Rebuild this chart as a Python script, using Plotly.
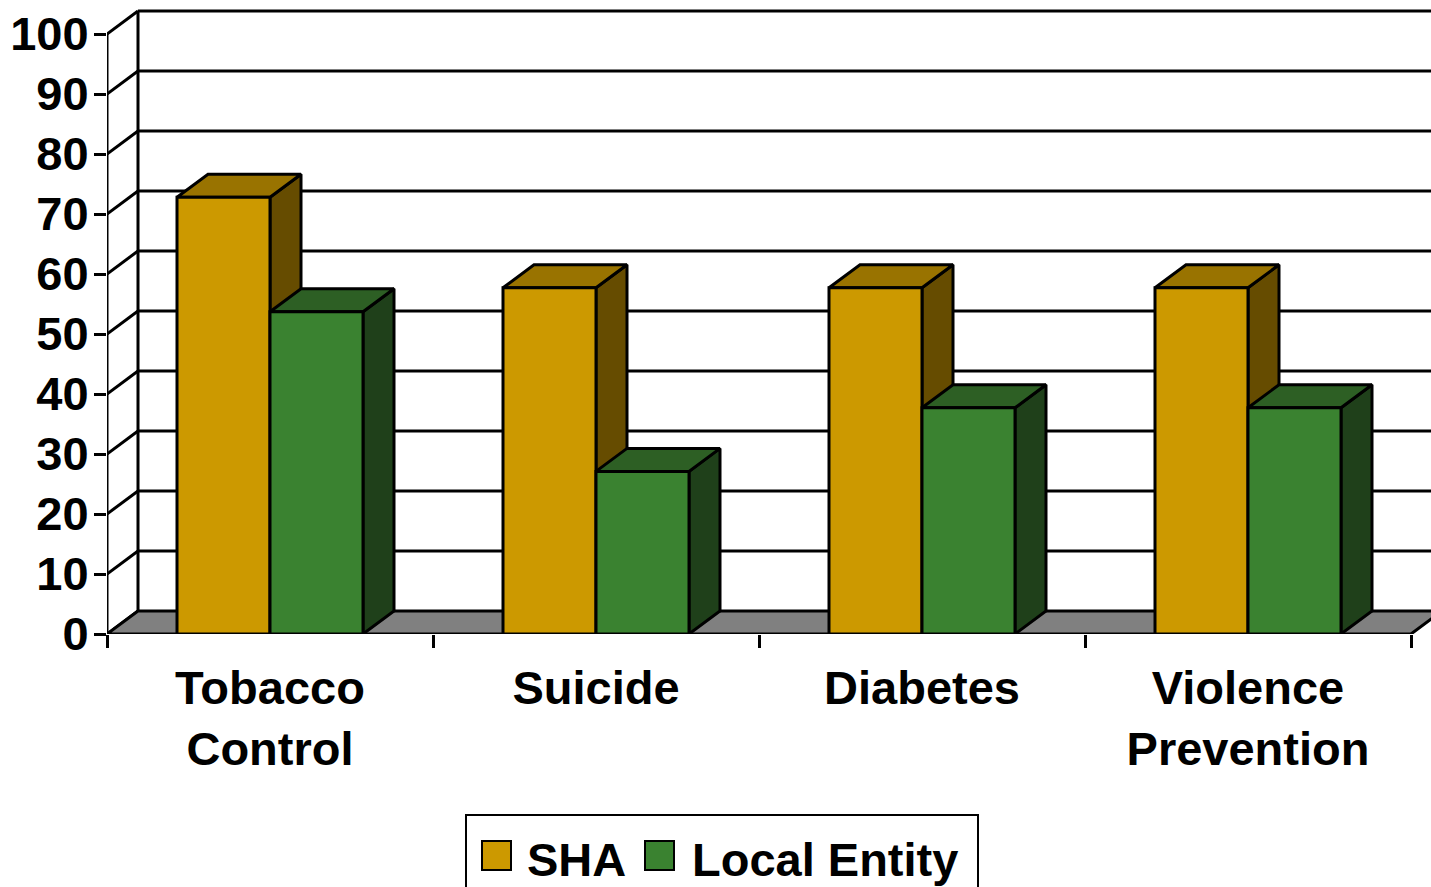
import plotly.graph_objects as go

# ---------------- data ----------------
categories = ["Tobacco<br>Control", "Suicide", "Diabetes", "Violence<br>Prevention"]
series_names = ["SHA", "Local Entity"]
sha_values = [72.8, 57.7, 57.7, 57.7]
local_values = [53.7, 27.1, 37.7, 37.7]
y_tick_values = [0, 10, 20, 30, 40, 50, 60, 70, 80, 90, 100]

# ---------------- layout geometry ----------------
W, H = 1431, 887
ML, MR, MT, MB = 107, 0, 0, 253
PLOT_W = W - ML - MR
PLOT_H = H - MT - MB
UX = 326.0          # px per category
UY = 6.0            # px per value unit
X_RANGE = [-0.5, -0.5 + PLOT_W / UX]
Y_RANGE = [0, PLOT_H / UY]
DX = 31 / UX        # depth offset (x, data units)
DY = 23 / UY        # depth offset (y, data units)
BW = 93 / UX        # bar width (data units)
N = len(categories)
X_LEFT = -0.5
X_RIGHT_END = N - 0.5

FONT = "Liberation Sans, Arial, sans-serif"
LW = 3

colors = {
    "SHA": dict(front="#CC9900", top="#997300", side="#664C00"),
    "Local Entity": dict(front="#3A8230", top="#2D5F24", side="#1F401A"),
}

fig = go.Figure()

# ---------------- walls / gridlines ----------------
gx, gy = [], []
for v in y_tick_values:
    gx += [X_LEFT, X_LEFT + DX, None]
    gy += [v, v + DY, None]
    if v > 0:
        gx += [X_LEFT + DX, X_RANGE[1] + 1, None]
        gy += [v + DY, v + DY, None]
gx += [X_LEFT + DX, X_LEFT + DX, None]
gy += [y_tick_values[0] + DY, y_tick_values[-1] + DY, None]
gx += [X_LEFT, X_LEFT, None]
gy += [y_tick_values[0], y_tick_values[-1], None]
fig.add_trace(go.Scatter(x=gx, y=gy, mode="lines", line=dict(color="black", width=LW),
                         hoverinfo="skip", showlegend=False))

# floor
fig.add_trace(go.Scatter(
    x=[X_LEFT, X_RIGHT_END, X_RIGHT_END + DX, X_LEFT + DX, X_LEFT],
    y=[0, 0, DY, DY, 0],
    mode="lines", fill="toself", fillcolor="#808080",
    line=dict(color="black", width=LW), hoverinfo="skip", showlegend=False))

# ---------------- 3D side/top faces ----------------
def faces(x0, x1, v, c):
    fig.add_trace(go.Scatter(
        x=[x1, x1 + DX, x1 + DX, x1, x1], y=[0, DY, v + DY, v, 0],
        mode="lines", fill="toself", fillcolor=c["side"],
        line=dict(color="black", width=LW), hoverinfo="skip", showlegend=False))
    fig.add_trace(go.Scatter(
        x=[x0, x0 + DX, x1 + DX, x1, x0], y=[v, v + DY, v + DY, v, v],
        mode="lines", fill="toself", fillcolor=c["top"],
        line=dict(color="black", width=LW), hoverinfo="skip", showlegend=False))

for i in range(N):
    faces(i - BW, i, sha_values[i], colors["SHA"])
    faces(i, i + BW, local_values[i], colors["Local Entity"])

# ---------------- front faces (bars, on an overlaid subplot so they sit on top) ----------------
fig.add_trace(go.Bar(x=list(range(N)), y=sha_values, width=BW, offset=-BW,
                     name=series_names[0], xaxis="x2", yaxis="y2",
                     marker=dict(color=colors["SHA"]["front"], line=dict(color="black", width=LW)),
                     showlegend=False))
fig.add_trace(go.Bar(x=list(range(N)), y=local_values, width=BW, offset=0,
                     name=series_names[1], xaxis="x2", yaxis="y2",
                     marker=dict(color=colors["Local Entity"]["front"], line=dict(color="black", width=LW)),
                     showlegend=False))

# ---------------- legend (manual) ----------------
def px2paper_x(px):
    return (px - ML) / PLOT_W

def px2paper_y(py):
    return (MT + PLOT_H - py) / PLOT_H

shapes = [
    dict(type="rect", xref="paper", yref="paper",
         x0=px2paper_x(466), x1=px2paper_x(978), y0=px2paper_y(815), y1=px2paper_y(895),
         line=dict(color="black", width=2), fillcolor="white", layer="above"),
]
legend_items = [(series_names[0], 482, 528), (series_names[1], 645, 693)]
annotations = []
for name, sx, tx in legend_items:
    shapes.append(dict(type="rect", xref="paper", yref="paper",
                       x0=px2paper_x(sx), x1=px2paper_x(sx + 29),
                       y0=px2paper_y(841), y1=px2paper_y(870),
                       line=dict(color="black", width=2),
                       fillcolor=colors[name]["front"], layer="above"))
    annotations.append(dict(text=name, xref="paper", yref="paper",
                            x=px2paper_x(tx - 3), y=px2paper_y(859),
                            xanchor="left", yanchor="middle", showarrow=False,
                            font=dict(family=FONT, size=47, color="black", weight="bold")))

fig.update_layout(
    width=W, height=H,
    margin=dict(l=ML, r=MR, t=MT, b=MB, pad=0),
    paper_bgcolor="white", plot_bgcolor="white",
    barmode="overlay", showlegend=False,
    shapes=shapes, annotations=annotations,
    xaxis=dict(range=X_RANGE, tickmode="array", tickvals=list(range(N)), ticktext=categories,
               ticks="", showgrid=False, zeroline=False, showline=False,
               tickfont=dict(family=FONT, size=47, color="black", weight="bold"),
               ticklabelstandoff=22,
               minor=dict(tickmode="array", tickvals=[i - 0.5 for i in range(N + 1)],
                          ticks="outside", ticklen=13, tickwidth=2.5, tickcolor="black",
                          showgrid=False)),
    yaxis=dict(range=Y_RANGE, tickmode="array", tickvals=y_tick_values,
               ticks="outside", ticklen=12, tickwidth=3, tickcolor="black",
               showgrid=False, zeroline=False, showline=False,
               ticklabelstandoff=-4,
               tickfont=dict(family=FONT, size=47, color="black", weight="bold")),
    xaxis2=dict(range=X_RANGE, overlaying="x", visible=False),
    yaxis2=dict(range=Y_RANGE, overlaying="y", visible=False),
)

fig.write_html("out.html", config={"displayModeBar": False},
               post_script="document.body.style.margin='0';document.body.style.overflow='hidden';")
